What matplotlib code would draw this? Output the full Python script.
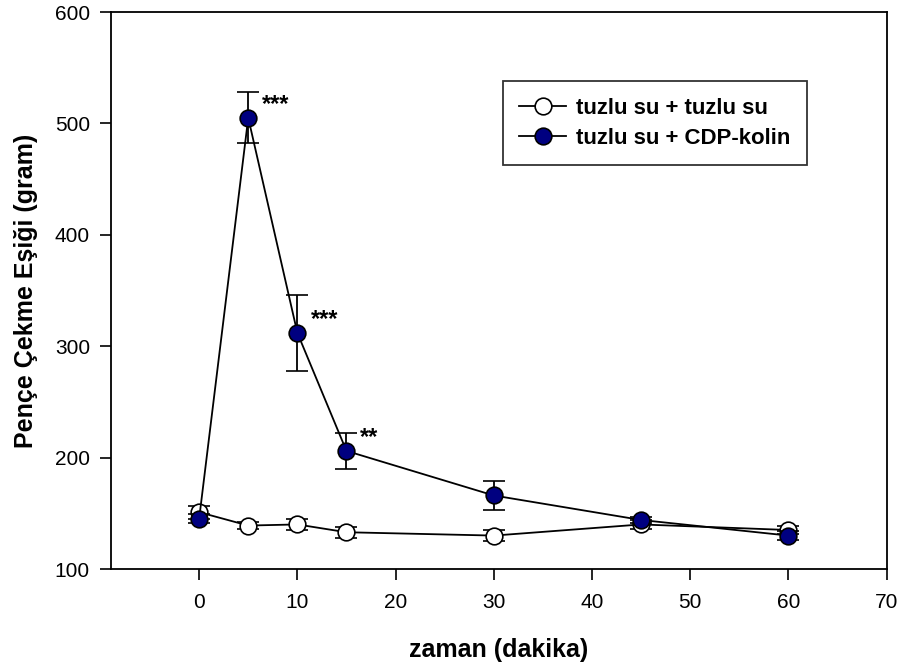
import matplotlib
matplotlib.use("Agg")
import matplotlib.pyplot as plt
from matplotlib.lines import Line2D

plt.rcParams['font.family'] = ['Liberation Sans', 'DejaVu Sans']

# time points (minutes)
zaman = [0, 5, 10, 15, 30, 45, 60]

# saline + saline
tuzlu_mean = [151, 139, 140, 133, 130, 140, 135]
tuzlu_err = [6, 3, 5, 5, 5, 4, 4]

# saline + CDP-choline
cdp_mean = [145, 505, 312, 206, 166, 144, 130]
cdp_err = [4, 23, 34, 16, 13, 3, 4]

# significance marks
sig_x = [5, 10, 15]
sig_y = [505, 312, 206]
sig_txt = ['***', '***', '**']

fig = plt.figure(figsize=(9.01, 6.68), dpi=100)
ax = fig.add_axes([0.1229, 0.1482, 0.8612, 0.8338])

ax.errorbar(zaman, tuzlu_mean, yerr=tuzlu_err, fmt='-o', color='black',
            mfc='white', mec='black', mew=1.2, ms=12, lw=1.3,
            capsize=8, capthick=1.3, elinewidth=1.3, zorder=2)
ax.errorbar(zaman, cdp_mean, yerr=cdp_err, fmt='-o', color='black',
            mfc='#000080', mec='black', mew=1.2, ms=12, lw=1.3,
            capsize=8, capthick=1.3, elinewidth=1.3, zorder=3)

for x, y, t in zip(sig_x, sig_y, sig_txt):
    ax.text(x + 1.4, y + 12, t, fontsize=17, fontweight='bold', va='center', ha='left')

ax.set_xlim(-9, 70)
ax.set_ylim(100, 600)
ax.set_xticks(range(0, 71, 10))
ax.set_yticks(range(100, 601, 100))
ax.tick_params(direction='out', length=8, width=1.2, labelsize=15)
ax.tick_params(axis='x', pad=9)
ax.tick_params(axis='y', pad=7)
for s in ax.spines.values():
    s.set_linewidth(1.3)

ax.set_xlabel('zaman (dakika)', fontsize=18, fontweight='bold', labelpad=19)
ax.set_ylabel('Pençe Çekme Eşiği (gram)', fontsize=18, fontweight='bold', labelpad=12)

handles = [
    Line2D([], [], color='black', lw=1.3, marker='o', ms=12, mfc='white', mec='black', mew=1.2),
    Line2D([], [], color='black', lw=1.3, marker='o', ms=12, mfc='#000080', mec='black', mew=1.2),
]
labels = ['tuzlu su + tuzlu su', 'tuzlu su + CDP-kolin']
leg = ax.legend(handles, labels, loc='upper left', bbox_to_anchor=(0.505, 0.876), prop={'weight': 'bold', 'size': 16},
                frameon=True, fancybox=False, edgecolor='black', borderpad=0.75,
                handlelength=2.1, labelspacing=0.4, handletextpad=0.45, borderaxespad=0)
leg.get_frame().set_linewidth(1.3)

fig.savefig('out.png', dpi=100)
